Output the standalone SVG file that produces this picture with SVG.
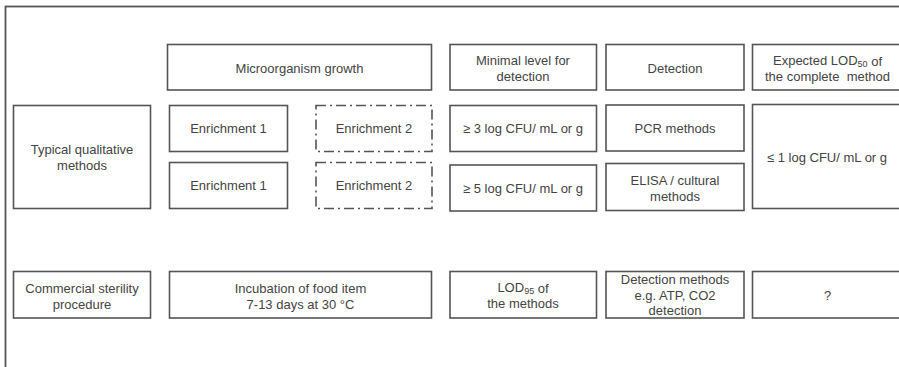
<svg xmlns="http://www.w3.org/2000/svg" width="899" height="367" viewBox="0 0 899 367">
<style>
.b{fill:#fff;stroke:#555;stroke-width:1.6}
.d{fill:#fff;stroke:#555;stroke-width:1.6;stroke-dasharray:10 4 2 4}
text{font-family:"Liberation Sans",Arial,sans-serif;font-size:13px;fill:#444;text-anchor:middle;dominant-baseline:central}
.s{font-size:9px}
</style>
<rect x="0" y="0" width="899" height="367" fill="#fff"/>
<rect id="frame" x="5.5" y="6.5" width="1000" height="1000" fill="none" stroke="#555" stroke-width="1.8"/>
<g id="connectors"></g>
<g id="microorganism-growth"><rect class="b" x="167.5" y="44.5" width="264" height="45.5"/><text x="299.5" y="68">Microorganism growth</text></g>
<g id="minimal-level"><rect class="b" x="450" y="44.5" width="146.5" height="45.5"/><text x="523" y="60.5">Minimal level for</text><text x="523" y="76">detection</text></g>
<g id="detection-header"><rect class="b" x="606" y="44.5" width="138" height="45.5"/><text x="675" y="68">Detection</text></g>
<g id="expected-lod"><rect class="b" x="752.5" y="44.5" width="150" height="45.5"/><text x="827.5" y="60.5">Expected LOD<tspan class="s" dy="3">50</tspan><tspan dy="-3"> of</tspan></text><text x="827.5" y="76" xml:space="preserve">the complete  method</text></g>
<g id="typical-qualitative"><rect class="b" x="13.5" y="105.5" width="137" height="103"/><text x="82" y="149">Typical qualitative</text><text x="82" y="165">methods</text></g>
<g id="enrichment1-a"><rect class="b" x="169.5" y="105.5" width="118" height="46"/><text x="228.5" y="128.5">Enrichment 1</text></g>
<g id="enrichment2-a"><rect class="d" x="316" y="105.5" width="116" height="46"/><text x="374" y="128.5">Enrichment 2</text></g>
<g id="enrichment1-b"><rect class="b" x="169.5" y="162.5" width="118" height="46"/><text x="228.5" y="185.5">Enrichment 1</text></g>
<g id="enrichment2-b"><rect class="d" x="316" y="162.5" width="116" height="46"/><text x="374" y="185.5">Enrichment 2</text></g>
<g id="min-3log"><rect class="b" x="450" y="105.5" width="146.5" height="46"/><text x="523" y="128.5">≥ 3 log CFU/ mL or g</text></g>
<g id="min-5log"><rect class="b" x="450" y="165" width="146.5" height="46"/><text x="523" y="188">≥ 5 log CFU/ mL or g</text></g>
<g id="pcr"><rect class="b" x="606" y="105" width="138" height="46"/><text x="675" y="128">PCR methods</text></g>
<g id="elisa"><rect class="b" x="606" y="163.5" width="138" height="47"/><text x="675" y="180">ELISA / cultural</text><text x="675" y="196">methods</text></g>
<g id="lod-1log"><rect class="b" x="752.5" y="104.5" width="150" height="104"/><text x="827" y="157">≤ 1 log CFU/ mL or g</text></g>
<g id="commercial-sterility"><rect class="b" x="13.5" y="271.5" width="137" height="46.5"/><text x="82" y="288">Commercial sterility</text><text x="82" y="304">procedure</text></g>
<g id="incubation"><rect class="b" x="169.5" y="271.5" width="262" height="46.5"/><text x="300.5" y="288">Incubation of food item</text><text x="300.5" y="304">7-13 days at 30 °C</text></g>
<g id="lod95"><rect class="b" x="450" y="271.5" width="146.5" height="46.5"/><text x="523" y="287.5">LOD<tspan class="s" dy="3">95</tspan><tspan dy="-3"> of</tspan></text><text x="523" y="303">the methods</text></g>
<g id="detection-methods"><rect class="b" x="606" y="271.5" width="138" height="46.5"/><text x="675" y="279.5">Detection methods</text><text x="675" y="295">e.g. ATP, CO2</text><text x="675" y="310.5">detection</text></g>
<g id="question"><rect class="b" x="752.5" y="271.5" width="150" height="46.5"/><text x="827.5" y="295">?</text></g>
</svg>
